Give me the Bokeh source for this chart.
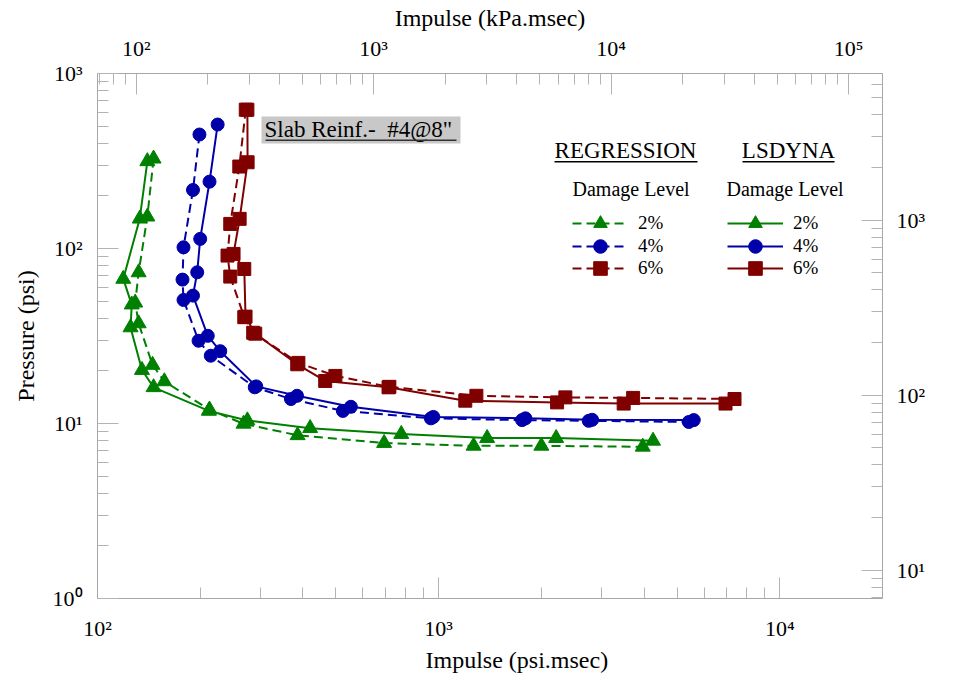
from math import log10, pi
from bokeh.plotting import figure
from bokeh.models import (Range1d, LogScale, LogAxis, FixedTicker, Legend,
                          LegendItem, Label, BoxAnnotation, Title)
from bokeh.embed import file_html
from bokeh.resources import INLINE

# ---------------- data ----------------
# LSDYNA (solid lines) and REGRESSION (dashed lines); impulse psi.msec, pressure psi
lsdyna_2_x = [140, 133, 119, 126, 125, 135, 146, 212, 275, 420, 777, 1387, 2210, 4250]
lsdyna_2_y = [315, 148, 67, 47.8, 35.4, 20.2, 16.1, 11.8, 10.4, 9.4, 8.7, 8.25, 8.25, 7.96]
reg_2_x = [146, 140, 132, 129, 132, 145, 157, 213, 268, 386, 692, 1266, 2000, 3965]
reg_2_y = [326, 152, 73, 49, 37.3, 21.6, 17.4, 12.0, 9.96, 8.56, 7.73, 7.45, 7.45, 7.36]

lsdyna_4_x = [225, 213, 200, 196, 190.5, 210.5, 229, 292, 384.5, 553, 965, 1796, 2818, 5595]
lsdyna_4_y = [511, 241, 113.5, 73.1, 53.8, 31.7, 25.9, 16.3, 14.4, 12.46, 10.9, 10.7, 10.5, 10.46]
reg_4_x = [199, 190.5, 178.7, 177.5, 178.7, 197.8, 214.8, 289, 369, 524, 949, 1756, 2754, 5410]
reg_4_y = [448, 216, 101.6, 66.4, 50.8, 29.7, 24.4, 16.1, 13.8, 11.8, 10.7, 10.46, 10.36, 10.2]

lsdyna_6_x = [275, 275.4, 261, 250.5, 269.3, 271.6, 290, 385, 465, 713, 1197, 2224, 3486, 6932]
lsdyna_6_y = [621, 311, 147.7, 93.1, 76.4, 40.8, 32.6, 21.8, 17.5, 16.1, 13.5, 13.2, 13.0, 13.0]
reg_6_x = [272, 260.4, 245, 240.5, 245, 269.3, 286, 388, 498, 717, 1290, 2352, 3716, 7366]
reg_6_y = [621, 294, 138.2, 91.1, 69.1, 40.5, 33.0, 22.2, 18.7, 16.2, 14.4, 14.1, 14.0, 13.8]

levels = ["2%", "4%", "6%"]
x_ticks = [100, 1000, 10000]
y_ticks = [1, 10, 100, 1000]
top_ticks = [100, 1000, 10000, 100000]
kpa_ticks = [10, 100, 1000]
KPA_PER_PSI = 6.895

X_RANGE = (100, 20000)
Y_RANGE = (1, 1000)
TOP_RANGE = (68.7, 139000)

FONT = "Liberation Serif"
GREEN, BLUE, RED = "#008000", "#0000aa", "#800000"
AXIS_GRAY = "#a6a6a6"
TICK_GRAY = "#b4b4b4"

# frame geometry (page pixels) used to place annotations
W, H = 958, 677
FL, FR, FT, FB = 97, 882, 73, 598


def X(px):
    return 10 ** (log10(X_RANGE[0]) + (px - FL) / (FR - FL) * (log10(X_RANGE[1]) - log10(X_RANGE[0])))


def Y(py):
    return 10 ** (log10(Y_RANGE[0]) + (FB - py) / (FB - FT) * (log10(Y_RANGE[1]) - log10(Y_RANGE[0])))


SUP = {0: "\u2070", 1: "\u00b9", 2: "\u00b2", 3: "\u00b3", 4: "\u2074", 5: "\u2075"}


def minor_for(lo, hi):
    out = []
    e = int(log10(lo)) - 1
    while 10 ** e <= hi:
        for m in range(2, 10):
            v = m * 10 ** e
            if lo < v < hi:
                out.append(v)
        e += 1
    return out


p = figure(width=W, height=H, x_axis_type="log", y_axis_type="log",
           x_range=Range1d(*X_RANGE), y_range=Range1d(*Y_RANGE),
           output_backend="svg", toolbar_location=None,
           min_border_left=FL, min_border_right=W - FR, min_border_top=FT,
           min_border_bottom=H - FB)
p.extra_x_ranges = {"top": Range1d(*TOP_RANGE)}
p.extra_x_scales = {"top": LogScale()}
p.extra_y_ranges = {"kpa": Range1d(Y_RANGE[0] * KPA_PER_PSI, Y_RANGE[1] * KPA_PER_PSI)}
p.extra_y_scales = {"kpa": LogScale()}
p.grid.visible = False
p.outline_line_color = None
p.background_fill_color = "white"
p.border_fill_color = "white"

top_axis = LogAxis(x_range_name="top")
right_axis = LogAxis(y_range_name="kpa")
p.add_layout(top_axis, "above")
p.add_layout(right_axis, "right")
bottom_axis = p.below[0]
left_axis = p.left[0]


def style(ax, major, rng, label, standoff, label_standoff):
    ax.ticker = FixedTicker(ticks=major, minor_ticks=minor_for(*rng))
    ax.major_label_overrides = {v: "10" + SUP[int(round(log10(v)))] for v in major}
    ax.axis_label = label
    ax.axis_label_text_font = FONT
    ax.axis_label_text_font_size = "24px"
    ax.axis_label_text_font_style = "normal"
    ax.axis_label_text_color = "black"
    ax.axis_label_standoff = label_standoff
    ax.major_label_text_font = FONT
    ax.major_label_text_font_size = "22px"
    ax.major_label_text_color = "black"
    ax.major_label_standoff = standoff
    ax.axis_line_color = AXIS_GRAY
    ax.major_tick_line_color = TICK_GRAY
    ax.minor_tick_line_color = TICK_GRAY
    ax.major_tick_in = 21
    ax.major_tick_out = 0
    ax.minor_tick_in = 11
    ax.minor_tick_out = 0


style(bottom_axis, x_ticks, X_RANGE, None, 17, 5)
style(left_axis, y_ticks, Y_RANGE, "Pressure (psi)", 15, 11)
style(top_axis, top_ticks, TOP_RANGE, "Impulse (kPa.msec)", 13, 2)
style(right_axis, kpa_ticks, (Y_RANGE[0] * KPA_PER_PSI, Y_RANGE[1] * KPA_PER_PSI),
      None, 14, 0)

# bottom axis title (sits right of centre in the reference)
p.add_layout(Title(text="Impulse (psi.msec)", align="left", offset=425 - FL, standoff=2,
                   text_font=FONT, text_font_size="24px", text_font_style="normal",
                   text_color="black"), "below")
# right axis title, reading upward as in the reference
p.add_layout(Label(x=X(941), y=Y(335), text="Pressure (kPa)", angle=pi / 2,
                   text_align="center", text_baseline="middle", text_font=FONT,
                   text_font_size="24px", text_color="black"))

series = [
    (reg_2_x, reg_2_y, GREEN, "triangle", 15, "dashed"),
    (reg_4_x, reg_4_y, BLUE, "circle", 13, "dashed"),
    (reg_6_x, reg_6_y, RED, "square", 13, "dashed"),
    (lsdyna_2_x, lsdyna_2_y, GREEN, "triangle", 15, "solid"),
    (lsdyna_4_x, lsdyna_4_y, BLUE, "circle", 13, "solid"),
    (lsdyna_6_x, lsdyna_6_y, RED, "square", 13, "solid"),
]

# legend row centres (page px) and column left edges
ROW_Y = [223, 245.5, 268]
COL_X = {"dashed": 572, "solid": 727}
GH = 34

for i, (xs, ys, col, mk, sz, style_) in enumerate(series):
    dash = "9 5" if style_ == "dashed" else "solid"
    lr = p.line(xs, ys, line_color=col, line_width=2, line_dash=dash)
    sr = p.scatter(xs, ys, marker=mk, size=sz, fill_color=col, line_color=col)
    leg = Legend(items=[LegendItem(label=levels[i % 3], renderers=[lr, sr])],
                 location=(COL_X[style_] - FL, FB - ROW_Y[i % 3] - GH / 2),
                 border_line_color=None, background_fill_alpha=0,
                 padding=0, margin=0, spacing=0, glyph_width=56, glyph_height=GH,
                 label_standoff=10, label_text_font=FONT, label_text_font_size="19px",
                 label_text_color="black")
    p.add_layout(leg)

# legend headers
for text, cx, x0, x1, tx in [("REGRESSION", 625, 554, 697, 572), ("LSDYNA", 788, 742, 834, 726)]:
    p.add_layout(Label(x=X(cx), y=Y(150), text=text, text_align="center",
                       text_baseline="middle", text_font=FONT, text_font_size="23px",
                       text_color="black"))
    p.add_layout(BoxAnnotation(left=X(x0), right=X(x1), top=Y(160.5), bottom=Y(162),
                               fill_color="black", fill_alpha=1, line_alpha=0))
    p.add_layout(Label(x=X(tx), y=Y(188.5), text="Damage Level", text_align="left",
                       text_baseline="middle", text_font=FONT, text_font_size="20px",
                       text_color="black"))

# slab note
p.add_layout(BoxAnnotation(left=X(261), right=X(460), top=Y(116), bottom=Y(143),
                           fill_color="#c8c8c8", fill_alpha=1, line_alpha=0, level="underlay"))
p.add_layout(Label(x=X(264), y=Y(129), text='Slab Reinf.-\u00a0 #4@8"', text_align="left",
                   text_baseline="middle", text_font=FONT, text_font_size="23px",
                   text_color="black"))
p.add_layout(BoxAnnotation(left=X(265), right=X(456), top=Y(139), bottom=Y(140.5),
                           fill_color="#333333", fill_alpha=1, line_alpha=0))

open("out.html", "w").write(file_html(p, INLINE))
